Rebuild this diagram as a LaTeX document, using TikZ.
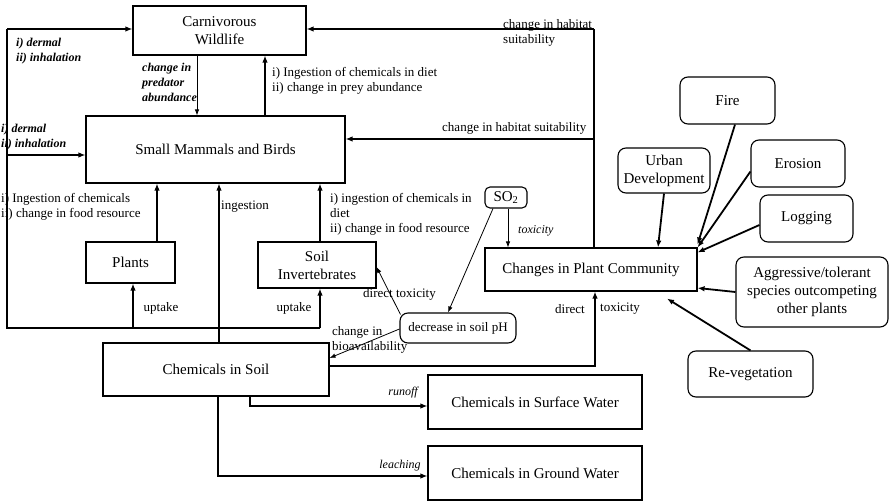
\documentclass[tikz,border=0pt]{standalone}
\usepackage{fontspec}
\setmainfont{Liberation Serif}
\usetikzlibrary{arrows.meta,calc}
\begin{document}
\begin{tikzpicture}[x=1pt,y=-1pt,
  box/.style={draw, line width=1.1pt, inner sep=2pt, align=center,
    font=\fontsize{15}{18}\selectfont},
  rbox/.style={box, rounded corners=8pt},
  lbl/.style={inner sep=0pt, align=left, font=\fontsize{13}{15}\selectfont},
  ilbl/.style={inner sep=0pt, align=left, font=\fontsize{12}{15}\selectfont\itshape\bfseries},
  itlbl/.style={inner sep=0pt, align=left, font=\fontsize{12}{15}\selectfont\itshape},
  flow/.style={line width=1.8pt, -{Latex[length=7pt,width=5.5pt]}},
  thinflow/.style={line width=0.8pt, -{Latex[length=6pt,width=4.5pt]}},
  wire/.style={line width=1.8pt}
]
\useasboundingbox (0,0) rectangle (891,502);

% ---- boxes ----
\node[box, minimum width=173pt, minimum height=49pt] (carn) at (219.5,30.5) {Carnivorous\\Wildlife};
\node[box, minimum width=259pt, minimum height=67pt] (smb) at (215.5,149.5) {Small Mammals and Birds};
\node[box, minimum width=89pt, minimum height=41pt] (plants) at (130.5,262.5) {Plants};
\node[box, minimum width=118pt, minimum height=46pt] (inv) at (317,265) {Soil\\Invertebrates};
\node[box, minimum width=226pt, minimum height=53pt] (cis) at (216,369.5) {Chemicals in Soil};
\node[rbox, rounded corners=5pt, minimum width=42pt, minimum height=21pt] (so2) at (506,197.5) {SO\textsubscript{2}};
\node[box, minimum width=212pt, minimum height=43pt] (cpc) at (591,269.5) {Changes in Plant Community};
\node[rbox, minimum width=116pt, minimum height=30pt, font=\fontsize{13}{15}\selectfont] (ph) at (458,328) {decrease in soil pH};
\node[box, minimum width=214pt, minimum height=54pt] (csw) at (535,402) {Chemicals in Surface Water};
\node[box, minimum width=214pt, minimum height=54pt] (cgw) at (535,473) {Chemicals in Ground Water};

% ---- external drivers ----
\node[rbox, minimum width=95pt, minimum height=47pt] (fire) at (727.5,100.5) {Fire};
\node[rbox, minimum width=92pt, minimum height=45pt] (urban) at (664,170.5) {Urban\\Development};
\node[rbox, minimum width=94pt, minimum height=47pt] (erosion) at (798,163.5) {Erosion};
\node[rbox, minimum width=93pt, minimum height=47pt] (logging) at (806.5,218.5) {Logging};
\node[rbox, minimum width=152pt, minimum height=70pt] (aggr) at (812,292) {Aggressive/tolerant\\species outcompeting\\other plants};
\node[rbox, minimum width=125pt, minimum height=46pt] (reveg) at (750.5,374) {Re-vegetation};

% ---- soil feed and dermal/inhalation network ----
\coordinate (hub) at (219,328);
\coordinate (lb) at (7,328);
\coordinate (lt) at (7,29);
\coordinate (ld) at (7,155);
\coordinate (rb) at (320,328);
\coordinate (pu) at (133,328);
\draw[flow] (cis.north -| hub) -- (smb.south -| hub);
\draw[wire, line join=miter] (rb) -- (lb) -- (lt);
\draw[flow] (lt) -- (lt -| carn.west);
\draw[flow] (ld) -- (ld -| smb.west);
\draw[flow] (pu) -- (pu |- plants.south);
\draw[flow] (rb) -- (rb |- inv.south);
\draw[flow] ([xshift=26.5pt]plants.north) -- ([xshift=26.5pt]plants.north |- smb.south);
\draw[flow] ([xshift=3pt]inv.north) -- ([xshift=3pt]inv.north |- smb.south);

% ---- food web ----
\draw[thinflow] ([xshift=-22.5pt]carn.south) -- ([xshift=-22.5pt]carn.south |- smb.north);
\draw[flow] ([xshift=45.5pt]carn.south |- smb.north) -- ([xshift=45.5pt]carn.south);

% ---- habitat suitability ----
\coordinate (rt) at (594,29);
\coordinate (rm) at (594,139);
\draw[wire] (cpc.north -| rt) -- (rt);
\draw[flow] (rt) -- (rt -| carn.east);
\draw[flow] (rm) -- (rm -| smb.east);

% ---- SO2 effects ----
\draw[thinflow] ([xshift=2pt]so2.south) -- ([xshift=2pt]so2.south |- cpc.north);
\draw[thinflow] ([xshift=-13pt]so2.south) -- ([xshift=-10pt]ph.north);
\draw[thinflow] ([shift={(1pt,-2pt)}]ph.north west) -- ([yshift=-2pt]inv.east);
\draw[thinflow] ([yshift=-1pt]ph.west) -- ([yshift=11.5pt]cis.east);

% ---- direct toxicity ----
\coordinate (dt) at (595,366);
\draw[flow] (cis.east |- dt) -- (dt) -- (dt |- cpc.south);

% ---- transport to water ----
\coordinate (ro) at (250,406);
\coordinate (le) at (218,476);
\draw[flow] (cis.south -| ro) -- (ro) -- (ro -| csw.west);
\draw[flow] (cis.south -| le) -- (le) -- (le -| cgw.west);

% ---- drivers of plant community change ----
\draw[flow] (urban.south) -- ([xshift=67pt]cpc.north);
\draw[flow] ([xshift=7.5pt]fire.south) -- ([yshift=3pt]cpc.north east);
\draw[flow] ([yshift=-8pt]erosion.west) -- (cpc.north east);
\draw[flow] ([yshift=-6.5pt]logging.west) -- ([yshift=-5pt]cpc.north east);
\draw[flow] (aggr.west) -- ([yshift=-18.5pt]cpc.east);
\draw[flow] (reveg.north) -- ([shift={(76pt,-7pt)}]cpc.south);

% ---- labels ----
\node[ilbl, anchor=west] (lab1) at (16,51) {i) dermal\\ii) inhalation};
\node[ilbl, anchor=west] (lab2) at (1,137) {i) dermal\\ii) inhalation};
\node[ilbl, anchor=west] (lab3) at (142,82) {change in\\predator\\abundance};
\node[lbl, anchor=west] (lab4) at (272,81) {i) Ingestion of chemicals in diet\\ii) change in prey abundance};
\node[lbl, anchor=west] (lab5) at (503,32.5) {change in habitat\\suitability};
\node[lbl, anchor=west] (lab6) at (442,128) {change in habitat suitability};
\node[lbl, anchor=west] (lab7) at (1,206.5) {i) Ingestion of chemicals\\ii) change in food resource};
\node[lbl, anchor=west] (lab8) at (221,207) {ingestion};
\node[lbl, anchor=west] (lab9) at (330,214) {i) ingestion of chemicals in\\diet\\ii) change in food resource};
\node[lbl] (lab10) at (161,308) {uptake};
\node[lbl] (lab11) at (294,308) {uptake};
\node[itlbl, anchor=west] (lab12) at (518,231) {toxicity};
\node[lbl, anchor=west] (lab13) at (363,294) {direct toxicity};
\node[lbl, anchor=west] (lab14) at (332,339.5) {change in\\bioavailability};
\node[lbl, anchor=east] (lab15) at (585,309) {direct};
\node[lbl, anchor=west] (lab16) at (600,309) {toxicity};
\node[itlbl] (lab17) at (403,393) {runoff};
\node[itlbl] (lab18) at (400,466) {leaching};
\end{tikzpicture}
\end{document}
